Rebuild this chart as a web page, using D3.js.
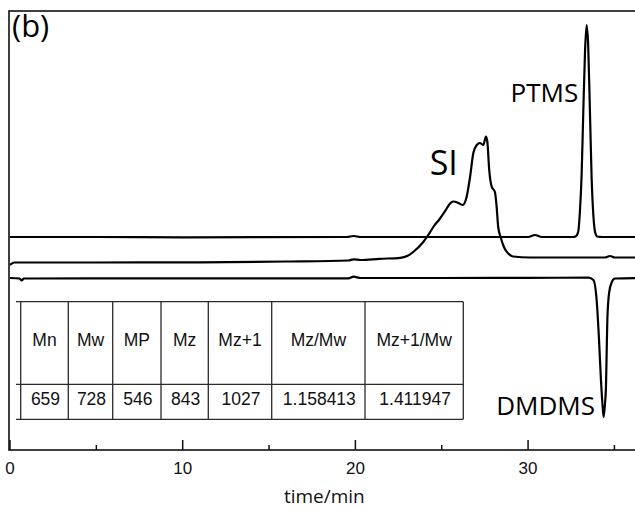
<!DOCTYPE html>
<html>
<head>
<meta charset="utf-8">
<script src="https://cdn.jsdelivr.net/npm/d3@7.9.0/dist/d3.min.js"></script>
<style>
  body { margin: 0; background: #fff; }
  svg { display: block; }
</style>
</head>
<body>
<svg width="635" height="510"></svg>
<script>
// GPC traces (time in min, detector response in arbitrary units)
const ptmsTime   = [0, 5, 10, 19.5, 19.9, 20.3, 25, 30.0, 30.4, 30.8, 32.6, 32.75, 32.9, 33.0, 33.1, 33.2, 33.3, 33.39, 33.48, 33.58, 33.68, 33.78, 33.88, 34.0, 34.3, 36.5];
const ptmsSignal = [213, 213, 212.7, 213, 214, 213, 213, 213, 215, 213, 213, 213.5, 218, 238, 275, 340, 400, 425, 405, 340, 272, 235, 218, 213.5, 213, 213];

const siTime   = [0, 0.25, 5, 11, 16, 19.6, 19.9, 20.3, 21.4, 22.6, 23.0, 23.35, 23.93, 24.22, 24.51, 24.9, 25.29, 25.48, 25.67, 25.96, 26.21, 26.44, 26.64, 26.83, 27.03, 27.21, 27.41, 27.56, 27.64, 27.75, 27.89, 28.08, 28.18, 28.27, 28.41, 28.6, 28.85, 29.14, 30.1, 34.45, 34.74, 35.03, 36.5];
const siSignal = [185, 187.5, 187.5, 187.7, 188.5, 189.5, 190.7, 190, 191.2, 192.2, 194, 198, 208, 215, 223, 231.5, 241.5, 246.5, 248.5, 247, 245, 253, 273, 297, 305, 307, 305, 313.5, 308.5, 280, 263.5, 258, 243, 223, 213, 203, 196.5, 193.5, 192.5, 192.5, 194, 192.5, 192.5];

const dmdmsTime   = [0, 0.55, 0.68, 0.8, 5, 15, 19.6, 19.9, 20.3, 25, 30, 33.5, 33.78, 33.97, 34.1, 34.22, 34.32, 34.38, 34.47, 34.51, 34.55, 34.59, 34.69, 34.85, 35.03, 36.5];
const dmdmsSignal = [172, 171.5, 169.5, 171.5, 171.7, 171.7, 171.7, 173.3, 172, 172, 172.2, 172.3, 170, 150, 113, 70, 43, 33, 50, 63, 97, 130, 157, 168, 171.5, 172];

const majorTicks = [0, 10, 20, 30];
const minorTicks = [5, 15, 25, 35];

const tableHeaders = ["Mn", "Mw", "MP", "Mz", "Mz+1", "Mz/Mw", "Mz+1/Mw"];
const tableValues  = ["659", "728", "546", "843", "1027", "1.158413", "1.411947"];

const svg = d3.select("svg");
const margin = { top: 11, left: 10, bottom: 60 };
const height = +svg.attr("height");

const x = d3.scaleLinear().domain([0, 36.4]).range([margin.left, 638.6]);
const y = d3.scaleLinear().domain([0, 440]).range([height - margin.bottom, 10]);

// frame
svg.append("rect")
  .attr("x", x(0) - 1)
  .attr("y", margin.top)
  .attr("width", x(36.4) - x(0) + 1)
  .attr("height", y(0) - margin.top)
  .attr("fill", "none")
  .attr("stroke", "#111")
  .attr("stroke-width", 1.6);

// bottom axis, ticks pointing inward
const ax = svg.append("g").attr("transform", `translate(0,${y(0)})`);
ax.selectAll("line.major").data(majorTicks).join("line")
  .attr("x1", d => x(d)).attr("x2", d => x(d))
  .attr("y1", 0).attr("y2", -10)
  .attr("stroke", "#111").attr("stroke-width", 1.5);
ax.selectAll("line.minor").data(minorTicks).join("line")
  .attr("x1", d => x(d)).attr("x2", d => x(d))
  .attr("y1", 0).attr("y2", -5)
  .attr("stroke", "#111").attr("stroke-width", 1.5);
ax.selectAll("text").data(majorTicks).join("text")
  .attr("x", d => x(d))
  .attr("y", 24)
  .attr("text-anchor", "middle")
  .attr("font-family", "Liberation Sans, Arial, sans-serif")
  .attr("font-size", 17)
  .attr("fill", "#111")
  .text(d => d);

svg.append("text")
  .attr("x", (x(0) + x(36.4)) / 2)
  .attr("y", 503)
  .attr("text-anchor", "middle")
  .attr("font-family", "Open Sans, sans-serif")
  .attr("font-size", 19)
  .attr("fill", "#111")
  .text("time/min");

// traces
const line = d3.line()
  .x(d => x(d[0]))
  .y(d => y(d[1]))
  .curve(d3.curveMonotoneX);

svg.append("clipPath").attr("id", "plot")
  .append("rect")
  .attr("x", x(0)).attr("y", margin.top)
  .attr("width", x(36.4) - x(0)).attr("height", y(0) - margin.top);

[[ptmsTime, ptmsSignal], [siTime, siSignal], [dmdmsTime, dmdmsSignal]].forEach(([t, s]) => {
  svg.append("path")
    .datum(d3.zip(t, s))
    .attr("clip-path", "url(#plot)")
    .attr("fill", "none")
    .attr("stroke", "#000")
    .attr("stroke-width", 2.2)
    .attr("stroke-linejoin", "round")
    .attr("d", line);
});

// peak labels
const labelFont = "Open Sans, sans-serif";
svg.append("text")
  .attr("x", x(32.9)).attr("y", y(348))
  .attr("text-anchor", "end")
  .attr("font-family", labelFont).attr("font-size", 26)
  .text("PTMS");
svg.append("text")
  .attr("x", x(24.3)).attr("y", y(275))
  .attr("font-family", labelFont).attr("font-size", 34)
  .text("SI");
svg.append("text")
  .attr("x", x(28.15)).attr("y", y(35))
  .attr("font-family", labelFont).attr("font-size", 26)
  .text("DMDMS");
svg.append("text")
  .attr("x", 12).attr("y", 37)
  .attr("font-family", labelFont).attr("font-size", 31)
  .text("(b)");

// data table
const colEdges = [20.7, 68.3, 112.7, 161, 208.3, 271.7, 365, 463.3];
const rowEdges = [301.7, 384.3, 419.3];
const tbl = svg.append("g")
  .attr("stroke", "#2a2a2a").attr("stroke-width", 1.3);
rowEdges.forEach(r => {
  tbl.append("line")
    .attr("x1", 16).attr("x2", colEdges[colEdges.length - 1])
    .attr("y1", r).attr("y2", r);
});
colEdges.forEach(c => {
  tbl.append("line")
    .attr("x1", c).attr("x2", c)
    .attr("y1", rowEdges[0]).attr("y2", rowEdges[2]);
});

const cellMid = i => (colEdges[i] + colEdges[i + 1]) / 2;
svg.append("g").selectAll("text").data(tableHeaders).join("text")
  .attr("x", (d, i) => cellMid(i))
  .attr("y", 345.5)
  .attr("text-anchor", "middle")
  .attr("font-family", "Liberation Sans, Arial, sans-serif")
  .attr("font-size", 17.5)
  .attr("fill", "#111")
  .text(d => d);
svg.append("g").selectAll("text").data(tableValues).join("text")
  .attr("x", (d, i) => cellMid(i) + 1)
  .attr("y", 404.5)
  .attr("text-anchor", "middle")
  .attr("font-family", "Liberation Sans, Arial, sans-serif")
  .attr("font-size", 17.5)
  .attr("fill", "#111")
  .text(d => d);
</script>
</body>
</html>
